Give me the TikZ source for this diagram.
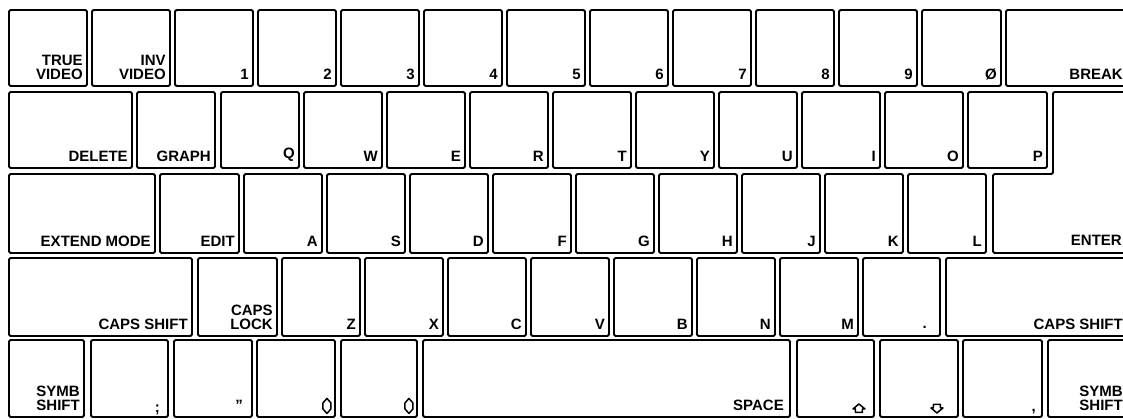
\documentclass[tikz,border=0pt]{standalone}
\usepackage{fontspec}
\setmainfont{Liberation Sans}
\tikzset{
  keycap/.style={draw, line width=1.9pt, rounded corners=1.5pt, inner sep=0pt},
  keylabel/.style={inner sep=0pt, anchor=south east, align=right,
    font=\bfseries\fontsize{15}{14}\selectfont},
  glyph/.style={line width=1.5pt, line join=round}
}
\begin{document}
\begin{tikzpicture}[x=1pt, y=-1pt]
\useasboundingbox (0,0) rectangle (1123,419);
\clip (0,0) rectangle (1123,419);
% number row
\foreach \n/\a/\b/\t in {tv/9/87/{TRUE\\VIDEO}, iv/92/170/{INV\\VIDEO}, k1/175/253/1, k2/258/336/2,
    k3/341/419/3, k4/424/502/4, k5/507/585/5, k6/590/668/6, k7/673/751/7, k8/756/834/8,
    k9/839/917/9, k0/922/1001/Ø, brk/1006/1127/BREAK} {
  \node[keycap, minimum width={(\b-\a)*1pt}, minimum height=76pt] (\n) at ({(\a+\b)/2}, 48) {};
  \node[keylabel] (\n-l) at ([shift={(-5pt,7pt)}]\n.south east) {\t};
}
% qwerty row
\foreach \n/\a/\b/\t in {del/9/132/DELETE, gra/137/215/GRAPH, q/221/299/Q, w/304/382/W,
    e/387/465/E, r/470/548/R, t/553/631/T, y/636/714/Y, u/719/797/U, i/802/880/I,
    o/885/963/O, p/968/1047/P} {
  \node[keycap, minimum width={(\b-\a)*1pt}, minimum height=76pt] (\n) at ({(\a+\b)/2}, 130) {};
  \node[keylabel] (\n-l) at ([shift={(-5pt,7pt)}]\n.south east) {\t};
}
% home row
\foreach \n/\a/\b/\t in {ext/9/155/{EXTEND MODE}, edt/160/239/EDIT, a/244/322/A, s/327/405/S,
    d/410/488/D, f/493/571/F, g/576/654/G, h/659/737/H, j/742/820/J, k/825/903/K,
    l/908/986/L} {
  \node[keycap, minimum width={(\b-\a)*1pt}, minimum height=79pt] (\n) at ({(\a+\b)/2}, 213.5) {};
  \node[keylabel] (\n-l) at ([shift={(-5pt,7pt)}]\n.south east) {\t};
}
\draw[keycap] (1053,92) -- (1130,92) -- (1130,253) -- (993,253) -- (993,174) -- (1053,174) -- cycle;
\node[keylabel] (ent-l) at (1122,246) {ENTER};
% shift row
\foreach \n/\a/\b/\t in {csl/9/192/{CAPS SHIFT}, clk/198/277/{CAPS\\LOCK}, z/282/360/Z, x/365/443/X,
    c/448/526/C, v/531/609/V, b/614/692/B, n/697/775/N, m/780/858/M, csr/946/1127/{CAPS SHIFT}} {
  \node[keycap, minimum width={(\b-\a)*1pt}, minimum height=78pt] (\n) at ({(\a+\b)/2}, 297) {};
  \node[keylabel] (\n-l) at ([shift={(-5pt,7pt)}]\n.south east) {\t};
}
\node[keycap, minimum width=77pt, minimum height=78pt] (dot) at (901.5, 297) {};
\node[keylabel] (dot-l) at ([shift={(-14pt,8pt)}]dot.south east) {.};
% bottom row
\foreach \n/\a/\b in {ssl/9/84, semi/91/168, quot/174/252, lft/257/335, rgt/341/417,
    spc/423/790, up/797/874, dn/880/958, com/963/1042, ssr/1048/1127} {
  \node[keycap, minimum width={(\b-\a)*1pt}, minimum height=77pt] (\n) at ({(\a+\b)/2}, 378.5) {};
}
\node[keylabel] (ssl-l) at ([shift={(-5pt,7pt)}]ssl.south east) {SYMB\\SHIFT};
\node[keylabel] (semi-l) at ([shift={(-9pt,3pt)}]semi.south east) {;};
\node[keylabel] (quot-l) at ([shift={(-10pt,7pt)}]quot.south east) {"};
\node[keylabel] (spc-l) at ([shift={(-7pt,7pt)}]spc.south east) {SPACE};
\node[keylabel] (com-l) at ([shift={(-7pt,4pt)}]com.south east) {,};
\node[keylabel] (ssr-l) at ([shift={(-5pt,7pt)}]ssr.south east) {SYMB\\SHIFT};
\draw[glyph] ([shift={(-9pt,12pt)}]lft.south east) +(0,-7.5) -- +(4,-3) -- +(4,3) -- +(0,7.5) -- +(-4,3) -- +(-4,-3) -- cycle;
\draw[glyph] ([shift={(-9pt,12pt)}]rgt.south east) +(0,-7.5) -- +(4,-3) -- +(4,3) -- +(0,7.5) -- +(-4,3) -- +(-4,-3) -- cycle;
\draw[glyph] ([shift={(-16pt,9pt)}]up.south east) +(0,-5) -- +(6,0) -- +(3.5,0) -- +(3.5,3.5) -- +(-3.5,3.5) -- +(-3.5,0) -- +(-6,0) -- cycle;
\draw[glyph] ([shift={(-22pt,10pt)}]dn.south east) +(0,5) -- +(6,0) -- +(3.5,0) -- +(3.5,-3.5) -- +(-3.5,-3.5) -- +(-3.5,0) -- +(-6,0) -- cycle;
\end{tikzpicture}
\end{document}
